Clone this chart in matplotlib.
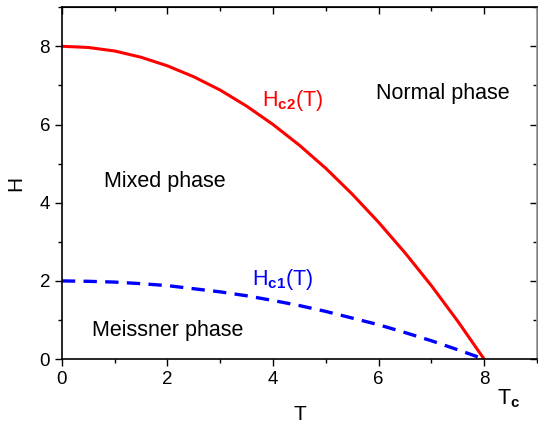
import matplotlib.pyplot as plt
from matplotlib.ticker import MultipleLocator

plt.rcParams['font.family'] = ['Liberation Sans', 'DejaVu Sans']
plt.rcParams['mathtext.fontset'] = 'custom'
plt.rcParams['mathtext.rm'] = 'Liberation Sans'
plt.rcParams['mathtext.bf'] = 'Liberation Sans:bold'

# values
T = [0, 0.5, 1, 1.5, 2, 2.5, 3, 3.5, 4, 4.5, 5, 5.5, 6, 6.5, 7, 7.5, 8]
hc2 = [8, 7.97, 7.88, 7.72, 7.5, 7.22, 6.88, 6.47, 6, 5.47, 4.88, 4.22, 3.5, 2.72, 1.88, 0.97, 0]
hc1 = [2, 1.99, 1.97, 1.93, 1.88, 1.8, 1.72, 1.62, 1.5, 1.37, 1.22, 1.05, 0.88, 0.68, 0.47, 0.24, 0]

fig = plt.figure(figsize=(5.38, 4.23), dpi=100)
ax = fig.add_axes([0.115, 0.151, 0.883, 0.832])

ax.plot(T, hc2, color='red', lw=2.2)
ax.plot(T, hc1, color='blue', lw=2.4, dashes=(4, 2.5))

ax.set_xlim(0, 9)
ax.set_ylim(0, 9)
ax.xaxis.set_major_locator(MultipleLocator(2))
ax.xaxis.set_minor_locator(MultipleLocator(1))
ax.yaxis.set_major_locator(MultipleLocator(2))
ax.yaxis.set_minor_locator(MultipleLocator(1))
ax.set_xticks([0, 2, 4, 6, 8])
ax.tick_params(which='major', direction='out', length=5, width=1, labelsize=13.5)
ax.tick_params(which='minor', direction='out', length=3, width=1)
for spine in ax.spines.values():
    spine.set_linewidth(1.2)
ax.spines['right'].set_color('#999999')

# inward ticks on top and right
sec_x = ax.secondary_xaxis('top')
sec_x.xaxis.set_major_locator(MultipleLocator(2))
sec_x.xaxis.set_minor_locator(MultipleLocator(1))
sec_x.tick_params(which='major', direction='in', length=5, width=1, labeltop=False)
sec_x.tick_params(which='minor', direction='in', length=3, width=1)
sec_y = ax.secondary_yaxis('right')
sec_y.yaxis.set_major_locator(MultipleLocator(2))
sec_y.yaxis.set_minor_locator(MultipleLocator(1))
sec_y.tick_params(which='major', direction='in', length=5, width=1, labelright=False)
sec_y.tick_params(which='minor', direction='in', length=3, width=1)

ax.set_xlabel('T', fontsize=15, labelpad=12)
ax.set_ylabel('H', fontsize=15, labelpad=10)

fs = 15.5
ax.text(5.95, 6.66, 'Normal phase', fontsize=fs, ha='left', va='baseline')
ax.text(0.80, 4.41, 'Mixed phase', fontsize=fs, ha='left', va='baseline')
ax.text(0.57, 0.59, 'Meissner phase', fontsize=fs, ha='left', va='baseline')
ax.text(3.79, 6.48, r'H$_{\mathbf{c2}}$(T)', color='red', fontsize=fs, ha='left', va='baseline')
ax.text(3.60, 1.89, r'H$_{\mathbf{c1}}$(T)', color='blue', fontsize=fs, ha='left', va='baseline')
ax.text(8.24, -1.17, r'T$_{\mathbf{c}}$', fontsize=fs, ha='left', va='baseline', clip_on=False)

fig.savefig('out.png', dpi=100)
